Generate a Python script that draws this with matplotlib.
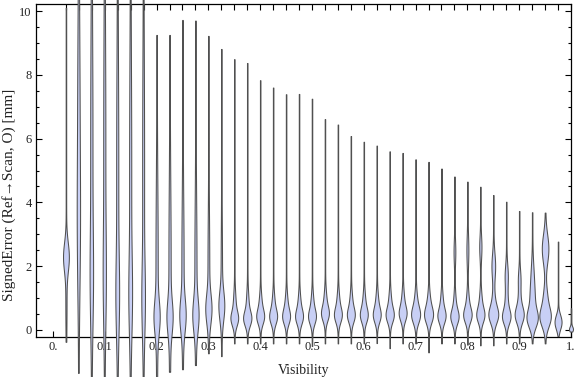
import numpy as np
import matplotlib
matplotlib.use('Agg')
import matplotlib.pyplot as plt
from matplotlib.ticker import MultipleLocator, FixedLocator

plt.rcParams['font.family'] = ['Liberation Serif', 'DejaVu Serif']

# Visibility bins (violin centres)
visibility = np.round(np.arange(1, 41) * 0.025, 3)

# range of the signed error in each bin [mm]
err_max = [10.1, 11.0, 11.0, 11.0, 11.0, 11.0, 11.0, 9.25, 9.25, 9.72,
           9.70, 9.22, 8.81, 8.49, 8.37, 7.83, 7.60, 7.39, 7.40, 7.25,
           6.61, 6.44, 6.08, 5.90, 5.78, 5.60, 5.55, 5.35, 5.27, 5.06,
           4.81, 4.65, 4.49, 4.23, 4.02, 3.73, 3.69, 3.68, 2.77, 0.68]
err_min = [-0.37, -1.36, -1.6, -1.6, -1.6, -1.6, -1.6, -1.6, -1.31, -1.23,
           -1.10, -0.73, -0.82, -0.42, -0.42, -0.42, -0.42, -0.42, -0.42, -0.50,
           -0.42, -0.42, -0.42, -0.42, -0.41, -0.57, -0.42, -0.42, -0.70, -0.42,
           -0.42, -0.46, -0.48, -0.48, -0.42, -0.42, -0.42, -0.42, -0.19, -0.05]

# main mode of each bin: centre, spread, relative density
main_c = [2.3, 3.0, 1.5, 1.5, 1.0, 1.0, 0.9, 0.4, 0.4, 0.45,
          0.45, 0.65, 0.75, 0.35, 0.35, 0.4, 0.4, 0.4, 0.4, 0.4,
          0.5, 0.45, 0.45, 0.45, 0.45, 0.45, 0.5, 0.45, 0.45, 0.42,
          0.4, 0.45, 0.45, 0.45, 0.4, 0.45, 0.35, 0.4, 0.22, 0.03]
main_s = [0.45, 2.0, 1.5, 1.5, 1.2, 1.2, 1.1, 0.5, 0.5, 0.5,
          0.5, 0.45, 0.45, 0.22, 0.22, 0.22, 0.22, 0.22, 0.22, 0.22,
          0.22, 0.22, 0.22, 0.22, 0.22, 0.22, 0.22, 0.24, 0.24, 0.22,
          0.22, 0.22, 0.22, 0.25, 0.22, 0.24, 0.28, 0.3, 0.2, 0.08]
main_w = [0.9, 0.35, 0.38, 0.35, 0.42, 0.42, 0.42, 0.75, 0.75, 0.8,
          0.8, 0.85, 0.85, 1.0, 1.1, 1.0, 1.0, 1.0, 1.0, 1.0,
          1.0, 1.0, 1.0, 1.0, 1.0, 1.05, 1.0, 1.15, 1.15, 1.05,
          1.1, 1.1, 1.05, 1.3, 1.15, 1.2, 1.6, 1.75, 1.05, 0.6]

# upper shoulder / broad component
sh_c = [0.8, 7.0, 6.0, 6.0, 5.0, 5.0, 5.0, 2.0, 2.0, 2.0,
        2.0, 2.0, 2.0, 0.75, 0.75, 0.75, 0.75, 0.75, 0.75, 0.75,
        0.85, 0.8, 0.8, 0.8, 0.8, 0.8, 0.85, 0.8, 0.8, 0.77,
        0.75, 0.8, 0.8, 0.8, 0.8, 0.8, 0.9, 1.0, 0.45, 0.0]
sh_s = [0.8, 3.0, 3.5, 3.5, 3.5, 3.5, 3.5, 2.5, 2.5, 2.0,
        2.0, 1.5, 1.2, 0.4, 0.4, 0.35, 0.35, 0.35, 0.35, 0.35,
        0.35, 0.35, 0.35, 0.35, 0.35, 0.35, 0.35, 0.35, 0.35, 0.35,
        0.35, 0.35, 0.35, 0.35, 0.35, 0.35, 0.4, 0.35, 0.15, 1.0]
sh_w = [0.12, 0.3, 0.3, 0.28, 0.28, 0.28, 0.25, 0.3, 0.3, 0.3,
        0.28, 0.22, 0.15, 0.4, 0.4, 0.45, 0.45, 0.45, 0.45, 0.45,
        0.45, 0.45, 0.45, 0.45, 0.45, 0.45, 0.45, 0.5, 0.5, 0.45,
        0.4, 0.45, 0.45, 0.5, 0.45, 0.45, 0.6, 0.6, 0.2, 0.0]

# secondary mode at larger errors (high visibility bins)
up_c = [0.0] * 30 + [2.45, 2.5, 2.6, 2.0, 1.7, 1.6, 1.6, 2.55, 0.0, 0.0]
up_s = [1.0] * 30 + [0.35, 0.45, 0.35, 0.4, 0.35, 0.3, 0.5, 0.45, 1.0, 1.0]
up_w = [0.0] * 30 + [0.22, 0.25, 0.3, 0.55, 0.45, 0.35, 0.45, 1.05, 0.0, 0.0]

fig = plt.figure(figsize=(5.76, 3.77), dpi=100)
ax = fig.add_axes([36 / 576, 1 - 337 / 377, 535 / 576, 333 / 377])

unit = 2.9 / 518      # half width of a unit density, in x units
floor = 0.25 / 518    # thin whisker

for i, x in enumerate(visibility):
    y = np.linspace(err_min[i], err_max[i], 800)
    hw = floor
    for c, s, w in ((main_c[i], main_s[i], main_w[i]),
                    (sh_c[i], sh_s[i], sh_w[i]),
                    (up_c[i], up_s[i], up_w[i])):
        hw = hw + unit * w * np.exp(-0.5 * ((y - c) / s) ** 2)
    ax.fill_betweenx(y, x - hw, x + hw, facecolor='#c8cff5',
                     edgecolor='#505050', linewidth=0.75, clip_on=False,
                     zorder=3)

ax.set_xlim(-0.0328, 1.0)
ax.set_ylim(-0.22, 10.22)

# ticks
ax.set_xticks(np.round(np.arange(0, 1.01, 0.1), 1))
ax.set_xticklabels(['0.', '0.1', '0.2', '0.3', '0.4', '0.5', '0.6', '0.7',
                    '0.8', '0.9', '1.'])
ax.set_yticks([0, 2, 4, 6, 8, 10])
ax.set_yticklabels(['0', '2', '4', '6', '8', '10'])
ax.yaxis.set_minor_locator(MultipleLocator(0.5))

ax.tick_params(axis='both', which='both', direction='in', colors='black',
               labelcolor='#222222', labelsize=9)
ax.tick_params(axis='y', which='major', length=4, width=0.8, pad=3,
               right=True)
ax.tick_params(axis='y', which='minor', length=2.3, width=0.8, right=True)
ax.tick_params(axis='x', which='major', length=4, width=0.8, pad=3)

# top ticks at the bin positions
top = ax.secondary_xaxis('top')
top.xaxis.set_major_locator(FixedLocator(visibility))
top.tick_params(direction='in', length=4, width=0.8, labeltop=False)
top.spines['top'].set_visible(False)

for sp in ax.spines.values():
    sp.set_linewidth(0.9)

ax.set_xlabel('Visibility', fontsize=10, labelpad=8, color='#222222')
ax.set_ylabel('SignedError (Ref\u2192Scan, O) [mm]', fontsize=11,
              color='#222222')
ax.yaxis.set_label_coords(-0.037, 0.426)

plt.savefig('out.png', dpi=100)
